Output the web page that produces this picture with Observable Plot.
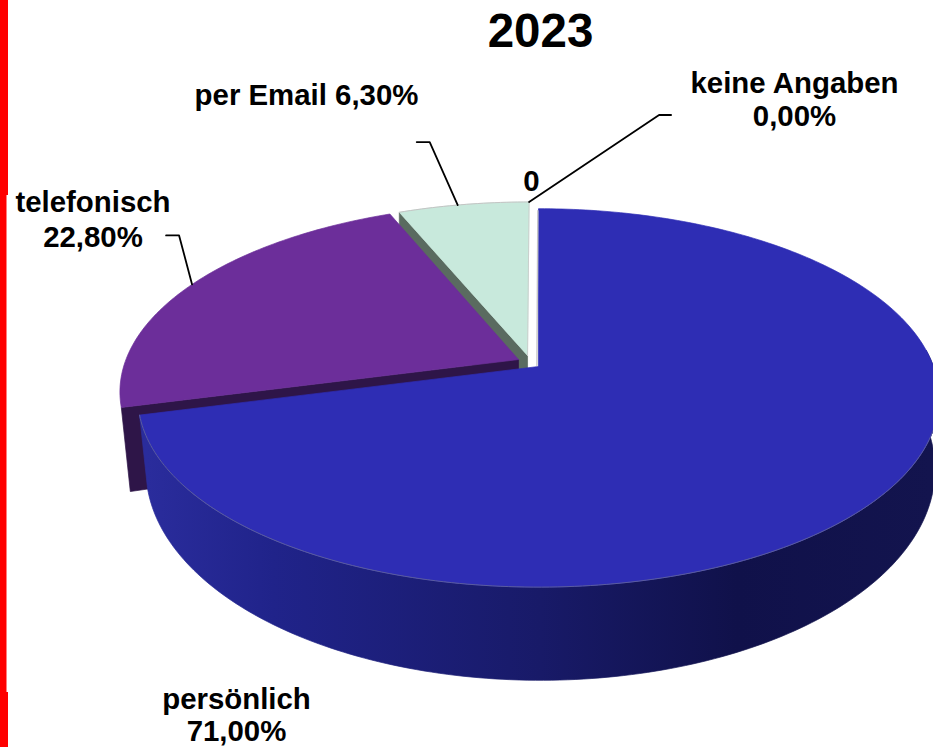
<!DOCTYPE html>
<html>
<head>
<meta charset="utf-8">
<script src="https://cdn.jsdelivr.net/npm/d3@7"></script>
<script src="https://cdn.jsdelivr.net/npm/@observablehq/plot@0.6"></script>
<style>html,body{margin:0;padding:0;background:#fff;overflow:hidden}svg{display:block}</style>
</head>
<body>
<div id="chart"></div>
<script>
// Data
const categories = ["persönlich", "telefonisch", "per Email", "keine Angaben"];
const shares = [71.0, 22.8, 6.3, 0.0];
const title = "2023";

// Styles and layout of the perspective pie
const topColors = ["#2e2db4", "#6c2e9a", "#c8e9dc", "#ffffff"];
const wallColors = ["url(#blueWall)", "#2e1548", "#5a6b60", "#ffffff"];
const apexU = [0, -0.051, -0.028, -0.004];
const apexV = [0, 0.038, 0.06, 0];
const radii = [1, 1, 0.99, 1];
const wallDrop = [68, 76, 70, 0];
const font = "Liberation Sans, Arial, sans-serif";

const slices = d3.pie().sort(null).value(d => d)(shares);

const persp = 0.166;
function topPoint(u, v) {
  const w = 1 + persp * v;
  return {x: 538 + 395 * u / w, y: 366 - 184 * v / w};
}
function lowPoint(u, v, drop) {
  const w = 1 + persp * v;
  return {x: 540 + 0.985 * 395 * u / w, y: 366 + drop - 205 * v / w};
}
const rim = (i, t) => [apexU[i] + radii[i] * Math.sin(t), apexV[i] + radii[i] * Math.cos(t)];
const DEG = Math.PI / 180;
function arc(i, a, b) {
  const n = Math.max(2, Math.ceil(Math.abs(b - a) / DEG));
  return d3.range(n + 1).map(k => rim(i, a + (b - a) * k / n));
}

// Polygons, derived from the values through the projection
const polys = [];
function addPoly(id, pts, color) {
  [...pts, pts[0]].forEach(p => polys.push({id, x: p.x, y: p.y, color}));
}
function topPoly(i) {
  const s = slices[i];
  addPoly("top" + i,
    [topPoint(apexU[i], apexV[i]), ...arc(i, s.startAngle, s.endAngle).map(p => topPoint(...p))],
    topColors[i]);
}
function radialWall(i, t) {
  const [u, v] = rim(i, t);
  const a = topPoint(apexU[i], apexV[i]), b = topPoint(u, v);
  addPoly("wall" + i, [a, b, {x: b.x + (i === 2 ? 0 : 9), y: b.y + wallDrop[i] + (i === 2 ? 0 : 8)}, {x: a.x, y: a.y + wallDrop[i]}], wallColors[i]);
}

radialWall(2, slices[2].startAngle);
topPoly(2);
radialWall(1, slices[1].startAngle);
topPoly(1);

// Blue outer wall as one shape, shaded from left to right
const blueEnd = slices[0].endAngle;
const wallArc = arc(0, 85 * DEG, blueEnd);
addPoly("side",
  [...wallArc.map(p => topPoint(...p)), ...wallArc.slice().reverse().map(p => lowPoint(p[0], p[1], wallDrop[0]))],
  wallColors[0]);
topPoly(0);

const gradientOffsets = [0, 0.16, 0.5, 0.75, 1];
const gradientColors = ["#2a2c9c", "#20238a", "#181a68", "#10114a", "#13144e"];
const blueWallGradient = () => {
  const g = d3.create("svg:defs");
  const lg = g.append("linearGradient")
    .attr("id", "blueWall")
    .attr("gradientUnits", "userSpaceOnUse")
    .attr("x1", 147).attr("x2", 933).attr("y1", 0).attr("y2", 0);
  gradientOffsets.forEach((o, i) => lg.append("stop").attr("offset", o).attr("stop-color", gradientColors[i]));
  return g.node();
};

// Thin edge lines
const blueRim = arc(0, 95 * DEG, blueEnd).map(p => topPoint(...p));
const mailRim = arc(2, slices[2].startAngle, slices[2].endAngle).map(p => topPoint(...p));
const mailSide = [topPoint(apexU[2], apexV[2]), topPoint(...rim(2, 2 * Math.PI))];
const zeroEdge = [topPoint(apexU[3], 0.005), topPoint(apexU[3] * 0.5, 0.985)];

// Leader lines start on the rim at each slice's middle angle
const mid = i => (slices[i].startAngle + slices[i].endAngle) / 2;
const leaderSlices = [1, 2, 3];
const leaderAngleShift = [0, -1, 0];
const leaderBends = [[[-13, -49], [-26, -49]], [[-28, -63], [-41, -63]], [[130, -87], [142, -87]]];
const leaders = [];
leaderSlices.forEach((i, k) => {
  const base = i === 3 ? 2 : i;
  const start = topPoint(...rim(base, mid(i) + leaderAngleShift[k] * DEG));
  [[0, 0], ...leaderBends[k]].forEach(o => leaders.push({id: k, x: start.x + o[0], y: start.y + o[1]}));
});

// Text
const labelTexts = ["per Email 6,30%", "keine Angaben", "0,00%", "0", "telefonisch", "22,80%", "persönlich", "71,00%"];
const labelX = [306, 794, 794, 531, 92.5, 92.5, 236, 236];
const labelY = [95, 83, 116, 181, 202, 237, 699, 731];
const labels = labelTexts.map((text, i) => ({text, x: labelX[i], y: labelY[i]}));

// Red edge bar
const barX2 = [8, 6.5, 8];
const barY1 = [0, 195, 692];
const barY2 = [195, 692, 747];
const bars = barX2.map((x2, i) => ({x1: 0, x2, y1: barY1[i], y2: barY2[i]}));

const chart = Plot.plot({
  width: 933,
  height: 747,
  margin: 0,
  style: {background: "#fff"},
  x: {domain: [0, 933], range: [0, 933], axis: null},
  y: {domain: [0, 747], range: [0, 747], axis: null},
  color: {type: "identity"},
  marks: [
    blueWallGradient,
    Plot.rect(bars, {x1: "x1", x2: "x2", y1: "y1", y2: "y2", fill: "#ff0000"}),
    Plot.line(polys, {x: "x", y: "y", z: "id", fill: "color", stroke: "color", strokeWidth: 0.7, strokeLinejoin: "round"}),
    Plot.line(blueRim, {x: "x", y: "y", stroke: "#5a5c9e", strokeWidth: 1}),
    Plot.line(mailRim, {x: "x", y: "y", stroke: "#c4c4c4", strokeWidth: 1}),
    Plot.line(mailSide, {x: "x", y: "y", stroke: "#c9cfcc", strokeWidth: 1}),
    Plot.line(zeroEdge, {x: "x", y: "y", stroke: "#c6c6c6", strokeWidth: 1.4}),
    Plot.line(leaders, {x: "x", y: "y", z: "id", stroke: "#000", strokeWidth: 1.8}),
    Plot.text(labels, {x: "x", y: "y", text: "text", fontFamily: font, fontWeight: "bold", fontSize: 29.4, fill: "#000", textAnchor: "middle"}),
    Plot.text([title], {x: () => 540, y: () => 31, text: d => d, fontFamily: font, fontWeight: "bold", fontSize: 47.5, fill: "#000", textAnchor: "middle"})
  ]
});
document.getElementById("chart").append(chart);
</script>
</body>
</html>
